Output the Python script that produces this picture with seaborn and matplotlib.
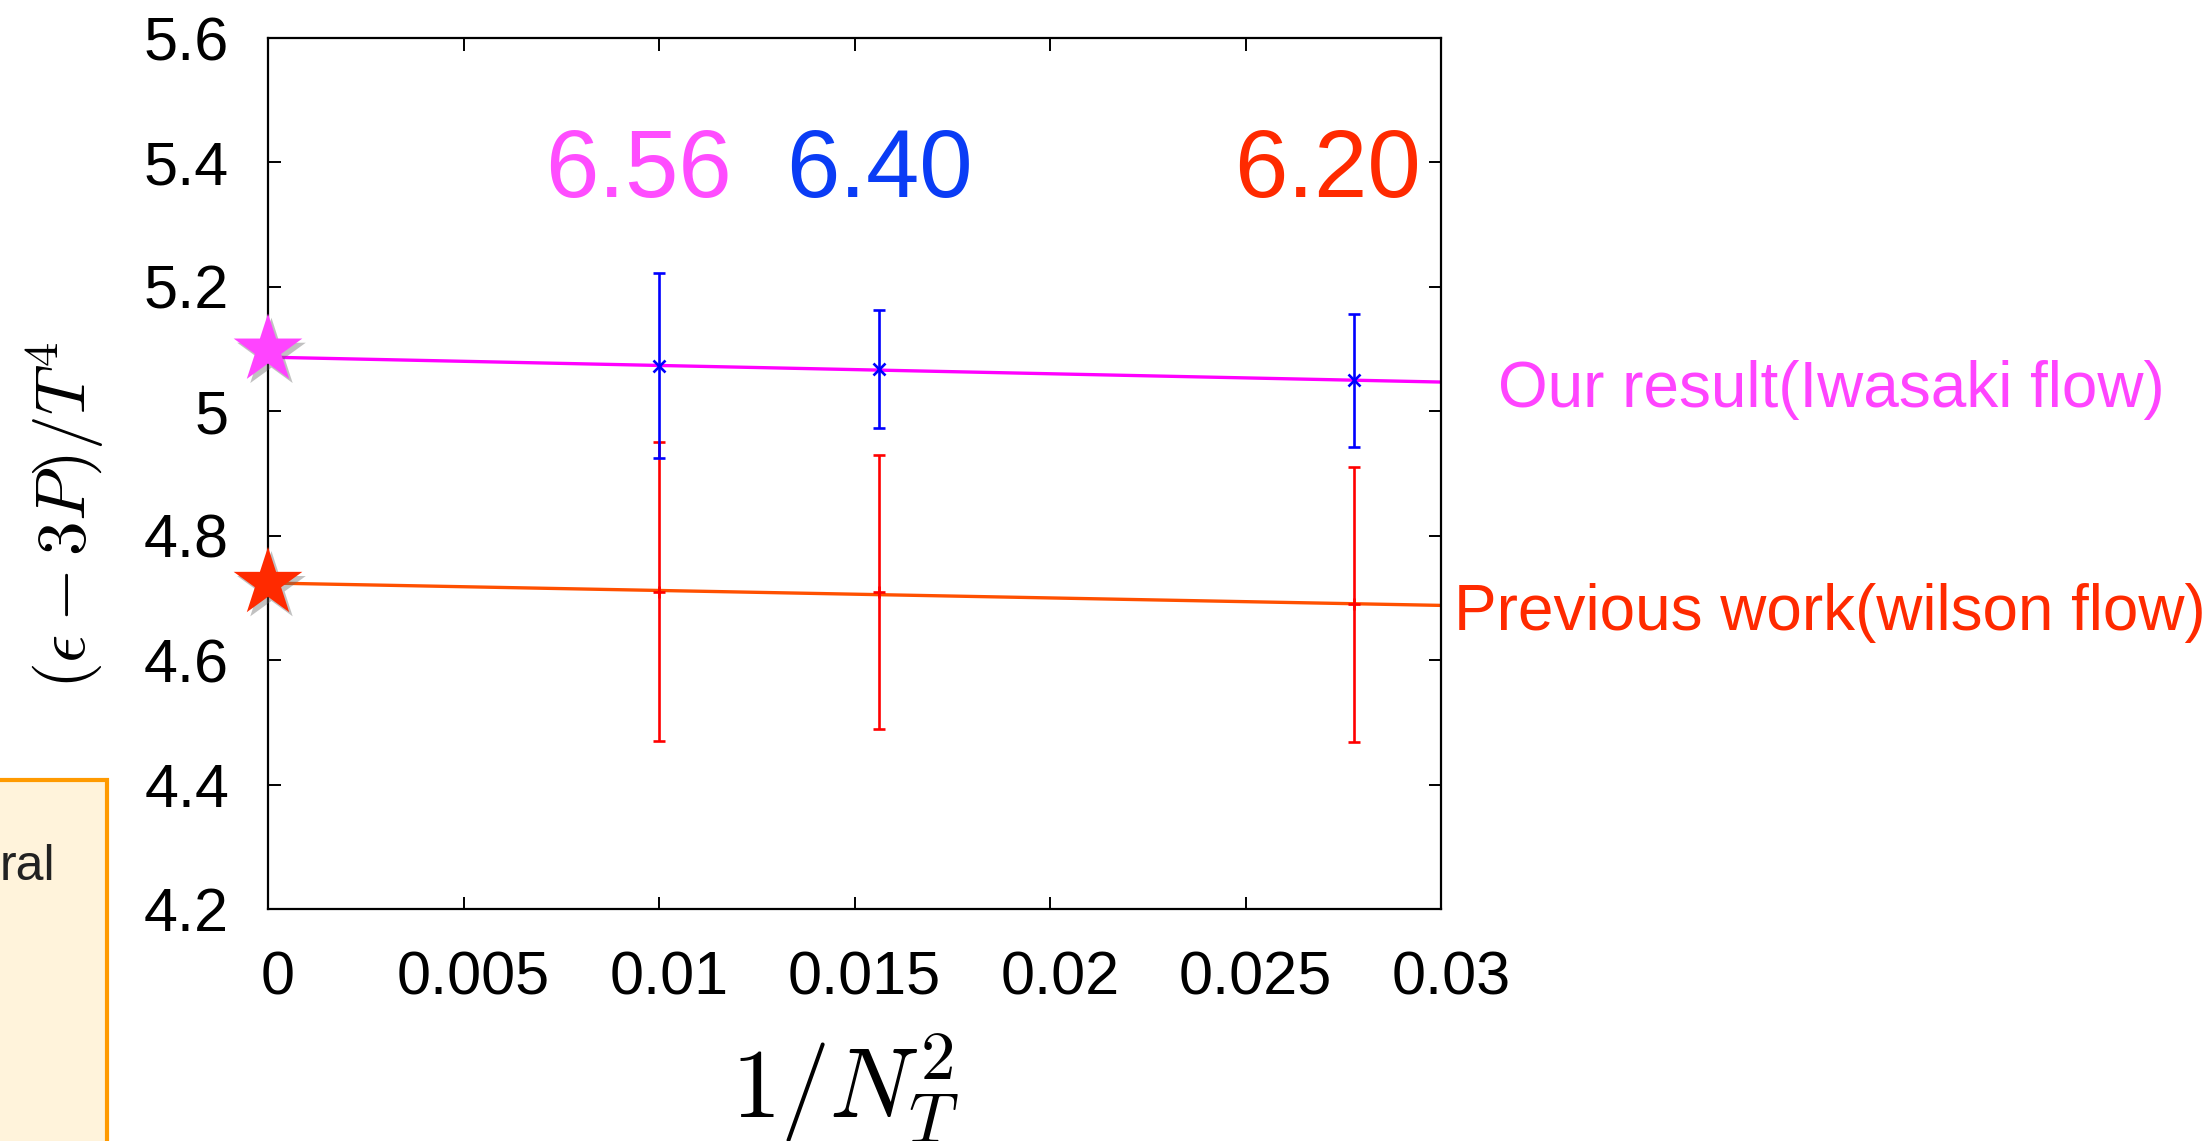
import matplotlib
matplotlib.use("Agg")
import matplotlib.pyplot as plt
import seaborn as sns
from matplotlib import patheffects as pe
from matplotlib.patches import Rectangle
from matplotlib.transforms import ScaledTranslation

# 1/N_T^2 for N_T = 10, 8, 6
inv_nt2 = [0.01, 0.015625, 0.027778]

# trace anomaly with Iwasaki gradient flow
iwasaki_val = [5.0735, 5.0675, 5.0495]
iwasaki_err = [0.1485, 0.0945, 0.1075]

# trace anomaly with Wilson gradient flow
wilson_val = [4.710, 4.710, 4.6895]
wilson_err = [0.240, 0.220, 0.2205]

# linear continuum extrapolations
fit_x = [0.0, 0.03]
iwasaki_fit = [5.087, 5.047]
wilson_fit = [4.724, 4.688]

# continuum-limit values
limit_x = [0.0]
iwasaki_limit = [5.099]
wilson_limit = [4.724]

beta_labels = ["6.56", "6.40", "6.20"]
series_labels = ["Our result(Iwasaki flow)", "Previous work(wilson flow)"]
x_ticks = [0, 0.005, 0.01, 0.015, 0.02, 0.025, 0.03]
x_ticklabels = ["0", "0.005", "0.01", "0.015", "0.02", "0.025", "0.03"]
y_ticks = [4.2, 4.4, 4.6, 4.8, 5.0, 5.2, 5.4, 5.6]
y_ticklabels = ["4.2", "4.4", "4.6", "4.8", "5", "5.2", "5.4", "5.6"]

sns.set_theme(style="white")
plt.rcParams["font.family"] = ["Liberation Sans", "DejaVu Sans"]
plt.rcParams["mathtext.fontset"] = "cm"

fig = plt.figure(figsize=(22.09, 11.41), dpi=100)
ax = fig.add_axes([268 / 2209, 1 - 909 / 1141, (1441 - 268) / 2209, (909 - 38) / 1141])

# fit lines
sns.lineplot(x=fit_x, y=iwasaki_fit, color="#FF00FF", linewidth=2.4, ax=ax, zorder=2)
sns.lineplot(x=fit_x, y=wilson_fit, color="#FF5000", linewidth=2.4, ax=ax, zorder=2)

# lattice data with error bars
ax.errorbar(inv_nt2, wilson_val, yerr=wilson_err, fmt="+", color="#FF0000",
            ms=9, mew=1.9, elinewidth=1.9, capsize=4.5, capthick=1.9, zorder=3)
ax.errorbar(inv_nt2, iwasaki_val, yerr=iwasaki_err, fmt="x", color="#0000FF",
            ms=9, mew=1.9, elinewidth=1.9, capsize=4.5, capthick=1.9, zorder=4)

# continuum-limit stars with a soft shadow
shadow = [pe.SimplePatchShadow(offset=(2.5, -3), shadow_rgbFace="#666666", alpha=0.4), pe.Normal()]
sns.scatterplot(x=limit_x, y=iwasaki_limit, marker="*", s=52 ** 2, color="#FF44FF",
                linewidth=0, ax=ax, clip_on=False, zorder=6, path_effects=shadow)
sns.scatterplot(x=limit_x, y=wilson_limit, marker="*", s=52 ** 2, color="#FF2A00",
                linewidth=0, ax=ax, clip_on=False, zorder=6, path_effects=shadow)

ax.set_xlim(0, 0.03)
ax.set_ylim(4.2, 5.6)
ax.set_xticks(x_ticks)
ax.set_xticklabels(x_ticklabels)
ax.set_yticks(y_ticks)
ax.set_yticklabels(y_ticklabels)
ax.tick_params(direction="in", length=9, width=1.4, color="black",
               top=True, right=True, bottom=True, left=True, labelsize=44,
               labelcolor="black")
ax.tick_params(axis="x", pad=30)
ax.tick_params(axis="y", pad=28)
for lab in ax.get_xticklabels():
    lab.set_transform(lab.get_transform() + ScaledTranslation(0.1, 0, fig.dpi_scale_trans))
for side in ax.spines.values():
    side.set_visible(True)
    side.set_color("black")
    side.set_linewidth(1.6)
ax.set_xlabel("")
ax.set_ylabel("")

# beta values above each column
beta_x = [0.00947, 0.01563, 0.02709]
beta_colors = ["#FF4DFF", "#0A3CF5", "#FF2A00"]
for bx, txt, col in zip(beta_x, beta_labels, beta_colors):
    ax.text(bx, 5.345, txt, color=col, fontsize=69, ha="center", va="baseline",
            fontfamily=["Liberation Sans"], clip_on=False)

# series labels to the right of the frame
fig.text(1498 / 2209, 1 - 407 / 1141, series_labels[0], color="#FF44FF", fontsize=46,
         ha="left", va="baseline")
fig.text(1454 / 2209, 1 - 630 / 1141, series_labels[1], color="#FF2A00", fontsize=46,
         ha="left", va="baseline")

# axis titles
fig.text(65 / 2209, 1 - 515 / 1141, r"$(\epsilon - 3P)/T^4$", fontsize=50,
         rotation=90, ha="center", va="center", color="black")
fig.text(845 / 2209, 1 - 1118 / 1141, r"$1/N_T^2$", fontsize=71,
         ha="center", va="baseline", color="black")

# note box at lower left
fig.add_artist(Rectangle((-0.02, -0.02), 0.02 + 107 / 2209, 0.02 + 1 - 780 / 1141,
                         transform=fig.transFigure, facecolor="#FFF3DB",
                         edgecolor="#FF9A00", linewidth=3, zorder=0))
fig.text(0.0, 1 - 880 / 1141, "ral", fontsize=36, color="#222222", ha="left",
         va="baseline")

fig.savefig("out.png", dpi=100)
